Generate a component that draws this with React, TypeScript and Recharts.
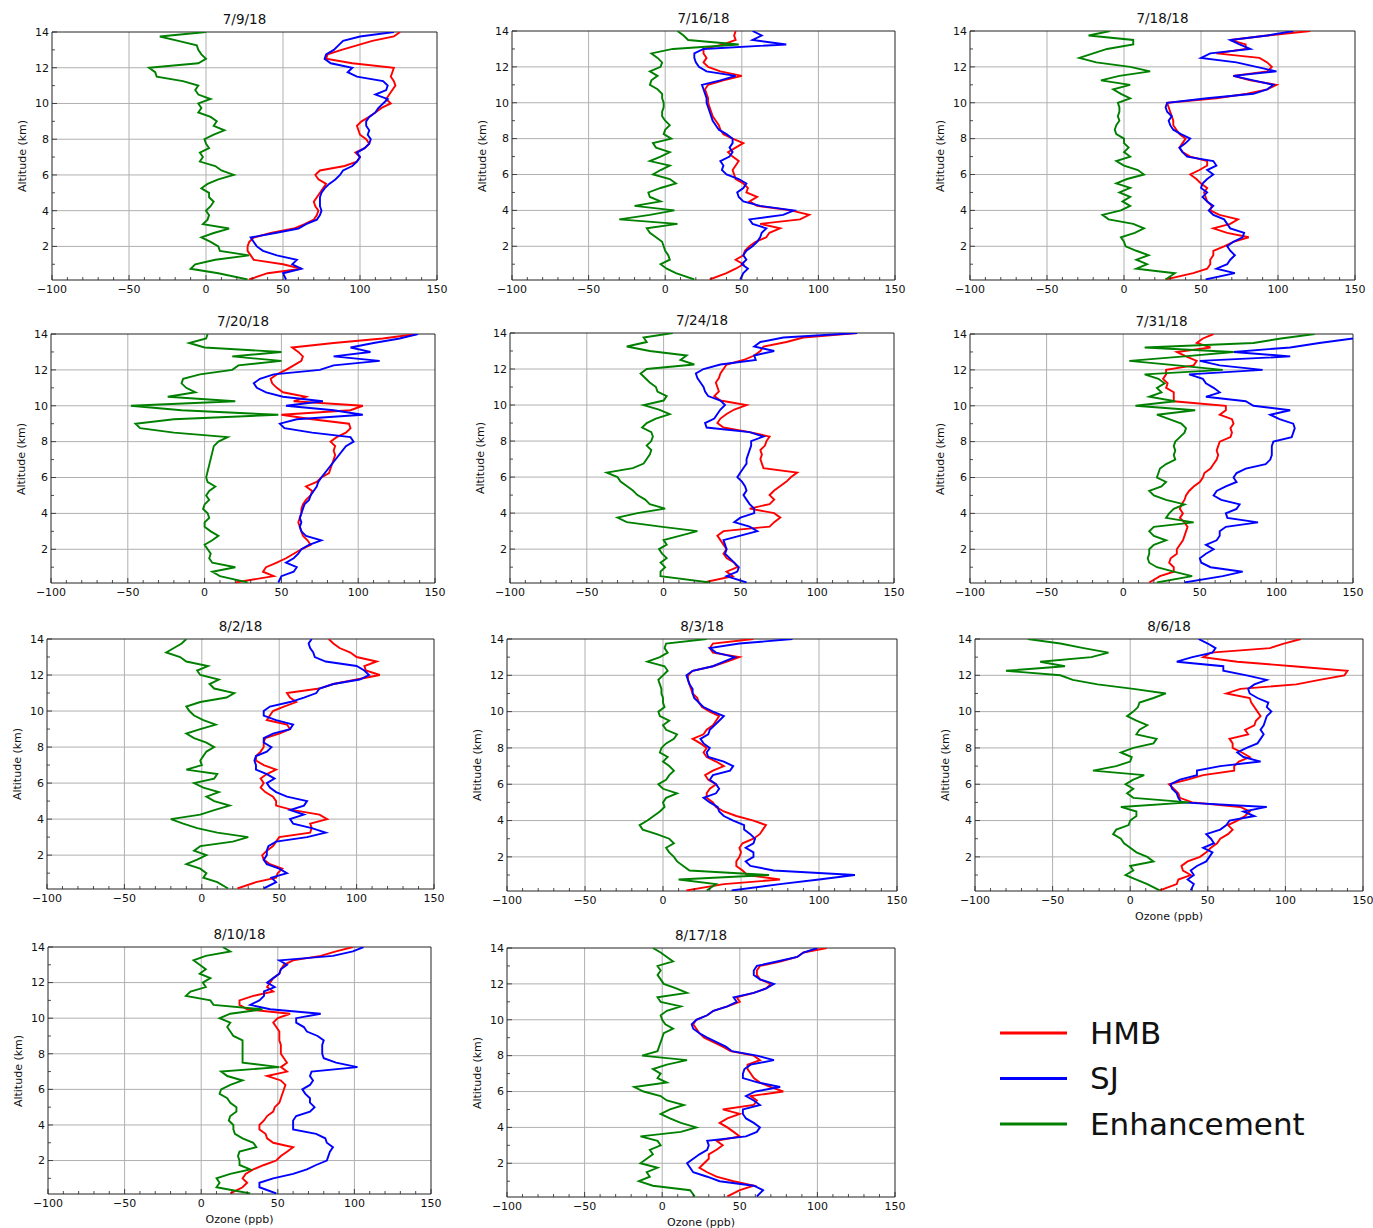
import React from 'react';
import { LineChart, Line, XAxis, YAxis, CartesianGrid, ReferenceArea } from 'recharts';

// altitude levels (km), shared by all profiles
const ALT = [
  0.15, 0.5, 0.75, 1, 1.25, 1.5, 1.75, 2,
  2.25, 2.5, 2.75, 3, 3.25, 3.5, 3.75, 4,
  4.25, 4.5, 4.75, 5, 5.25, 5.5, 5.75, 6,
  6.25, 6.5, 6.75, 7, 7.25, 7.5, 7.75, 8,
  8.25, 8.5, 8.75, 9, 9.25, 9.5, 9.75, 10,
  10.25, 10.5, 10.75, 11, 11.25, 11.5, 11.75, 12,
  12.25, 12.5, 12.75, 13, 13.25, 13.5, 13.75, 14,
];

// 7/9/18
const hmb709 = [28, 40, 62, 50, 31, 29, 27, 27, 28, 31, 42, 57, 64, 70, 72, 73, 71, 70, 72, 74, 76, 78, 73, 71, 74, 90, 98, 100, 97, 103, 106, 104, 100, 99, 98, 101, 106, 110, 114, 120, 117, 119, 121, 123, 122, 120, 121, 122, 95, 78, 79, 88, 98, 108, 122, 126];
const sj709 = [52, 50, 62, 56, 59, 46, 37, 33, 31, 29, 45, 60, 65, 72, 74, 75, 74, 74, 74, 75, 77, 80, 84, 87, 89, 95, 98, 100, 98, 103, 106, 107, 105, 106, 104, 104, 106, 110, 112, 115, 118, 110, 117, 118, 115, 98, 92, 95, 81, 77, 78, 83, 86, 89, 100, 122];
const enh709 = [27, 8, -10, -7, 6, 28, 9, 8, 3, -3, 5, 15, -2, 1, 2, 0, 3, 5, 2, 2, -3, 1, 8, 18, 10, 6, -4, -2, -4, 2, 0, -1, 5, 12, 5, 7, 3, -5, -3, -5, 3, -5, -7, -5, -15, -32, -33, -37, -5, 0, -3, -5, -6, -18, -30, 0];

// 7/16/18
const hmb716 = [29, 40, 46, 51, 46, 51, 52, 55, 59, 66, 68, 75, 62, 88, 94, 82, 60, 55, 60, 53, 54, 51, 46, 45, 44, 46, 48, 44, 41, 46, 51, 44, 38, 36, 35, 33, 31, 30, 29, 28, 28, 27, 26, 28, 38, 50, 36, 28, 25, 27, 25, 25, 38, 46, 45, 46];
const sj716 = [49, 51, 54, 50, 53, 51, 53, 57, 60, 62, 63, 66, 57, 55, 77, 84, 62, 51, 48, 47, 51, 53, 48, 40, 37, 38, 36, 42, 44, 42, 44, 44, 40, 35, 33, 31, 30, 29, 28, 27, 27, 26, 25, 24, 36, 46, 27, 22, 20, 19, 19, 25, 79, 57, 63, 57];
const enh716 = [19, 7, 1, -3, 3, 2, 0, -1, -2, -6, -10, -12, 8, -30, -10, 6, -20, -3, -10, -11, -3, 7, 3, -8, -3, 3, -10, -3, 3, -6, -8, 4, -1, 0, 3, 0, -2, -2, -1, -1, -2, -2, -5, -10, -9, -5, -10, -3, -2, -5, -9, 5, 48, 15, 12, 8];

// 7/18/18
const hmb718 = [27, 45, 54, 56, 56, 58, 58, 65, 71, 81, 67, 58, 69, 74, 62, 56, 57, 54, 53, 52, 54, 50, 47, 43, 49, 54, 54, 43, 38, 36, 38, 40, 36, 34, 32, 32, 31, 30, 29, 28, 60, 80, 93, 99, 82, 71, 93, 96, 93, 88, 60, 79, 79, 69, 93, 121];
const sj718 = [53, 72, 60, 67, 69, 72, 69, 67, 71, 77, 78, 69, 67, 65, 58, 55, 58, 54, 51, 54, 50, 51, 54, 58, 54, 60, 58, 41, 38, 36, 40, 43, 37, 32, 30, 29, 31, 28, 27, 28, 54, 84, 93, 97, 84, 71, 99, 86, 73, 50, 56, 82, 75, 69, 93, 110];
const enh718 = [27, 33, 8, 15, 8, 16, 8, 1, 0, -2, 7, 13, 6, -10, -14, -2, 4, -1, 4, -3, 4, -5, 2, 13, 9, 0, -5, 4, 0, 3, 0, 0, -5, -6, -5, -3, -4, -3, -3, -4, 4, -2, -7, 4, -15, -3, 17, 4, -18, -29, -20, -11, 6, 6, -23, -9];

// 7/20/18
const hmb720 = [20, 45, 38, 40, 47, 53, 58, 63, 69, 67, 64, 63, 62, 61, 62, 63, 63, 64, 66, 69, 70, 66, 73, 76, 81, 82, 83, 84, 85, 84, 85, 82, 86, 92, 95, 94, 70, 50, 95, 103, 58, 66, 51, 47, 44, 43, 47, 53, 58, 63, 64, 61, 57, 84, 116, 138];
const sj720 = [48, 50, 58, 60, 53, 58, 61, 63, 68, 76, 66, 63, 62, 63, 62, 63, 64, 65, 68, 69, 71, 73, 74, 76, null, null, null, null, null, null, 92, 97, 95, 70, 52, 49, 60, 103, 84, 53, 77, 51, 40, 34, 32, 36, 45, 75, 84, 114, 84, 108, 95, 110, 127, 139];
const enh720 = [28, 10, 5, 20, 5, 3, 4, 2, 0, 5, 9, 4, 0, 0, 3, 2, -1, 0, 3, 1, 3, 7, 2, 1, null, null, null, null, null, null, 6, 9, 15, -20, -42, -45, -20, 48, -15, -48, 20, -24, -6, -12, -15, -14, -3, 18, 22, 50, 18, 50, 0, -10, 1, 2];

// 7/24/18
const hmb724 = [26, 45, 41, 48, 46, 41, 39, 41, 39, 37, 35, 39, 69, 72, 76, 72, 56, 69, 72, 69, 72, 76, 80, 83, 87, 65, 64, 63, 64, 63, 66, 67, 69, 56, 39, 35, 37, 41, 46, 54, 37, 33, 36, 35, 34, 36, 37, 39, 41, 52, 59, 63, 65, 80, 91, 126];
const sj724 = [54, 41, 48, 49, 46, 43, 40, 41, 40, 39, 50, 61, 56, 46, 50, 59, 59, 56, 54, 52, 54, 53, 51, 48, 50, 52, 54, 54, 55, 56, 57, 57, 65, 56, 28, 27, 33, 35, 37, 40, 37, 29, 27, 26, 24, 22, 21, 26, 37, 60, 59, 72, 59, 63, 78, 126];
const enh724 = [30, -2, -2, 1, -2, 2, -1, -3, 2, 0, 11, 22, -2, -24, -30, -17, 1, -9, -12, -17, -20, -24, -28, -30, -37, -20, -13, -11, -9, -8, -11, -8, -7, -8, -14, -11, -5, 4, -3, -13, 0, 2, -4, -5, -9, -12, -15, -11, 20, 11, 15, -9, -24, -11, -13, 6];

// 7/31/18
const hmb731 = [17, 24, 33, 33, 30, 31, 35, 35, 37, 39, 40, 41, 42, 40, 37, 39, 37, 38, 40, 41, 43, 46, 50, 52, 53, 57, 59, 61, 62, 61, 62, 63, 70, 71, 70, 72, 71, 63, 67, 67, 33, 33, 33, 28, 29, 26, 28, 28, 46, 48, 41, 35, 57, 48, 52, 59];
const sj731 = [40, 65, 78, 57, 51, 50, 54, 59, 54, 61, 63, 63, 67, 88, 68, 67, 74, 76, 64, 59, 61, 67, 74, 72, 74, 80, 93, 96, 97, 97, 97, 98, 110, 111, 112, 111, 102, 96, 109, 85, 80, 54, 63, 59, 54, 52, 43, 91, 63, 50, 109, 72, 109, 128, 150, 165];
const enh731 = [22, 45, 33, 22, 17, 16, 17, 17, 20, 28, 20, 17, 20, 46, 28, 30, 33, 40, 28, 20, 17, 25, 28, 22, 23, 24, 28, 34, 33, 34, 33, 34, 37, 40, 41, 38, 30, 22, 47, 8, 34, 17, 25, 22, 27, 23, 14, 65, 35, 4, 40, 72, 14, 85, 103, 125];

// 8/2/18
const hmb802 = [23, 35, 48, 49, 52, 44, 40, 39, 42, 46, 48, 50, 70, 71, 70, 81, 76, 59, 48, 48, 46, 41, 38, 40, 38, 42, 48, 40, 35, 35, 38, 40, 40, 41, 50, 57, 55, 42, 44, 46, 53, 61, 57, 55, 76, 85, 100, 115, 106, 105, 113, 100, 96, 89, 85, 82];
const sj802 = [40, 48, 45, 55, 50, 42, 40, 42, 42, 43, 48, 68, 80, 71, 59, 57, 66, 57, 66, 68, 55, 48, 44, 42, 47, 42, 35, 35, 34, 35, 42, 45, 40, 40, 46, 57, 59, 48, 40, 40, 44, 57, 66, 74, 76, 85, 102, 108, 105, 100, 80, 73, 72, 70, 69, 71];
const enh802 = [17, 10, 1, 3, -1, -10, -3, 3, -5, -1, 20, 30, 10, -3, -12, -20, -1, 8, 18, 8, 3, 11, 1, -5, 8, 10, -10, 0, -1, 1, 3, 8, 3, -5, -10, -1, 9, 1, -5, -8, -10, -1, 16, 21, 8, 5, 11, -1, -3, 4, -10, -14, -23, -18, -13, -10];

// 8/3/18
const hmb803 = [15, 39, 75, 54, 51, 47, 47, 49, 50, 49, 51, 58, 62, 64, 66, 58, 47, 39, 34, 32, 28, 28, 30, 34, 29, 27, 32, 39, 34, 28, 26, 28, 24, 19, 26, 28, 32, 34, 36, 30, 25, 23, 22, 19, 18, 17, 16, 16, 19, 32, 41, 49, 32, 30, 32, 58];
const sj803 = [44, 75, 100, 123, 71, 56, 53, 58, 58, 53, 58, 59, 56, 52, 52, 45, 39, 36, 35, 30, 26, 34, 36, 34, 30, 32, 43, 45, 39, 29, 28, 30, 26, 24, 29, 30, 33, 36, 39, 32, 26, 23, 20, 19, 19, 17, 16, 15, 19, 32, 39, 46, 34, 30, 49, 83];
const enh803 = [28, 34, 10, 68, 17, 13, 9, 7, 4, 2, 7, 4, -4, -13, -15, -10, -6, -2, 1, 0, 2, 9, 0, -3, 2, 4, 7, 4, 0, 3, -2, -1, 2, 7, 9, 2, 0, 4, -2, -3, 1, 0, 0, -1, -1, -2, -3, 0, 3, 1, -10, -2, 3, 1, 2, 28];

// 8/6/18
const hmb806 = [19, 30, 31, 39, 34, 33, 37, 45, 49, 52, 56, 58, 63, 66, 63, 69, 74, 77, 71, 40, 32, 31, 28, 25, 37, 47, 67, 67, 70, 77, 72, 66, 66, 64, 76, 74, 80, 81, 84, 82, 80, 78, 77, 62, 71, 107, 122, 138, 140, 105, 69, 47, 52, 90, 99, 110];
const sj806 = [39, 41, 37, 41, 39, 43, 49, 51, 53, 47, 54, 52, 49, 58, 62, 64, 80, 73, 88, 33, 31, 30, 27, 26, 32, 43, 43, 58, 84, 73, 69, 75, 82, 84, 86, 84, 86, 87, 88, 91, 88, 89, 82, 77, 76, 80, 88, 75, 60, 60, 30, 40, 53, 55, 50, 44];
const enh806 = [19, 11, 4, -3, 2, 0, 15, 11, 4, 0, -4, -6, -11, -9, -1, 0, 4, 4, -6, 38, 2, -2, 2, -3, 2, 9, -24, -9, 0, 1, -6, 2, 15, 17, 4, 6, 11, 4, -2, 2, 5, 6, 15, 23, 2, -21, -37, -45, -80, -42, -58, -25, -14, -30, -45, -66];

// 8/10/18
const hmb810 = [19, 27, 30, 27, 29, 34, 41, 49, 52, 56, 60, 47, 43, 42, 38, 38, 41, 43, 47, 48, 51, 52, 53, 54, 55, 52, 43, 56, 52, 56, 54, 52, 52, 52, 51, 51, 51, 49, 47, 50, 58, 30, 25, 25, 34, 47, 43, 45, 47, 51, 52, 54, 60, 78, 88, 99];
const sj810 = [49, 38, 38, 47, 60, 69, 75, 82, 83, 84, 86, 82, 81, 75, 60, 60, 60, 62, 71, 74, 71, 71, 68, 66, 71, 73, 71, 72, 102, 88, 80, 79, 79, 79, 80, 76, 69, 67, 62, 62, 78, 45, 32, 38, 41, 41, 48, 43, 47, 51, 52, 56, 51, 86, 99, 106];
const enh810 = [32, 10, 12, 10, 19, 32, 25, 25, 24, 25, 36, 34, 27, 22, 21, 21, 18, 19, 23, 23, 19, 17, 12, 13, 19, 27, 17, 13, 51, 27, 27, 27, 27, 27, 27, 21, 19, 17, 19, 12, 19, 40, 8, 6, -10, -7, 3, 1, 6, -1, 3, -1, -5, 3, 19, 14];

// 8/17/18
const hmb817 = [42, 50, 59, 46, 35, 29, 24, 27, 30, 30, 35, 39, 35, 50, 46, 42, 37, 42, 50, 39, 59, 61, 57, 78, 70, 63, 59, 57, 55, 55, 63, 59, 44, 39, 33, 27, 24, 22, 20, 22, 29, 33, 42, 50, 48, 59, 67, 70, 63, 61, 61, 63, 76, 87, 91, 106];
const sj817 = [61, 65, 59, 37, 29, 20, 18, 16, 20, 24, 29, 30, 29, 54, 61, 63, 59, 54, 52, 52, 63, 59, 54, 60, 76, 62, 52, 52, 53, 57, 72, 61, 45, 41, 35, 29, 24, 20, 19, 22, 29, 33, 42, 48, 46, 59, 67, 72, 63, 59, 59, 61, 74, 87, 91, 100];
const enh817 = [21, 18, -6, -15, -8, -10, -3, -14, -10, -6, -8, -1, -3, -14, 12, 22, 12, 5, -1, 5, 14, 3, -1, -12, -18, 3, -3, -1, -6, 3, 16, -13, -3, -2, -1, 0, 1, 7, 2, 0, -1, 3, 12, -1, -3, 16, 9, 1, -1, -3, -1, -3, 7, 3, -1, -6];

const X_TICKS = [-100, -90, -80, -70, -60, -50, -40, -30, -20, -10, 0, 10, 20, 30, 40, 50, 60, 70, 80, 90, 100, 110, 120, 130, 140, 150];
const Y_TICKS = [1, 2, 3, 4, 5, 6, 7, 8, 9, 10, 11, 12, 13, 14];
const X_GRID = [-50, 0, 50, 100];
const Y_GRID = [2, 4, 6, 8, 10, 12];

const COLORS = { hmb: '#ff0000', sj: '#0000ff', enh: '#008000' };
const FONT = '"DejaVu Sans", Verdana, sans-serif';
// axis thickness is 1px so the axes still render; margins are trimmed to match
const M = { top: 28, right: 15, bottom: 39, left: 44 };

// plot boxes: [left, right, top, bottom] in page pixels
const PANELS = [
  { title: '7/9/18', hmb: hmb709, sj: sj709, enh: enh709, box: [52, 437, 32, 280] },
  { title: '7/16/18', hmb: hmb716, sj: sj716, enh: enh716, box: [512, 895, 31, 280] },
  { title: '7/18/18', hmb: hmb718, sj: sj718, enh: enh718, box: [970, 1355, 31, 280] },
  { title: '7/20/18', hmb: hmb720, sj: sj720, enh: enh720, box: [51, 435, 334, 583] },
  { title: '7/24/18', hmb: hmb724, sj: sj724, enh: enh724, box: [510, 894, 333, 583] },
  { title: '7/31/18', hmb: hmb731, sj: sj731, enh: enh731, box: [970, 1353, 334, 583] },
  { title: '8/2/18', hmb: hmb802, sj: sj802, enh: enh802, box: [47, 434, 639, 889] },
  { title: '8/3/18', hmb: hmb803, sj: sj803, enh: enh803, box: [507, 897, 639, 891] },
  { title: '8/6/18', hmb: hmb806, sj: sj806, enh: enh806, box: [975, 1363, 639, 891], xlabel: true },
  { title: '8/10/18', hmb: hmb810, sj: sj810, enh: enh810, box: [48, 431, 947, 1194], xlabel: true },
  { title: '8/17/18', hmb: hmb817, sj: sj817, enh: enh817, box: [507, 895, 948, 1197], xlabel: true },
];

const fmt = (v: number) => (v < 0 ? '\u2212' + Math.abs(v) : String(v));

const XTick = (props: any) => {
  const { x, y, payload } = props;
  const v = payload.value;
  const major = v % 50 === 0;
  return (
    <g>
      <line x1={x} x2={x} y1={y} y2={y - (major ? 5 : 3)} stroke="#222" strokeWidth={0.8} />
      {major && (
        <text x={x} y={y + 13} textAnchor="middle" fontSize={11} fill="#111" fontFamily={FONT}>
          {fmt(v)}
        </text>
      )}
    </g>
  );
};

const YTick = (props: any) => {
  const { x, y, payload } = props;
  const v = payload.value;
  const major = v % 2 === 0;
  return (
    <g>
      <line x1={x} x2={x + (major ? 5 : 3)} y1={y} y2={y} stroke="#222" strokeWidth={0.8} />
      {major && (
        <text x={x - 3} y={y} dy="0.35em" textAnchor="end" fontSize={11} fill="#111" fontFamily={FONT}>
          {v}
        </text>
      )}
    </g>
  );
};

function Profile({ p }: { p: any }) {
  const [x0, x1, y0, y1] = p.box;
  const w = x1 - x0;
  const h = y1 - y0;
  const data = ALT.map((alt, i) => ({ alt, hmb: p.hmb[i], sj: p.sj[i], enh: p.enh[i] }));
  return (
    <>
      <div style={{ position: 'absolute', left: x0, width: w, top: y0 - 22, textAlign: 'center', fontSize: 13.5, lineHeight: '18px', color: '#111' }}>
        {p.title}
      </div>
      <div style={{ position: 'absolute', left: x0 - 30, top: (y0 + y1) / 2, transform: 'translate(-50%, -50%) rotate(-90deg)', whiteSpace: 'nowrap', fontSize: 11, color: '#111' }}>
        Altitude (km)
      </div>
      {p.xlabel && (
        <div style={{ position: 'absolute', left: x0, width: w, top: y1 + 18, textAlign: 'center', fontSize: 11, lineHeight: '16px', color: '#111' }}>
          Ozone (ppb)
        </div>
      )}
      <div style={{ position: 'absolute', left: x0 - M.left - 1, top: y0 - M.top }}>
        <LineChart layout="vertical" width={w + M.left + 1 + M.right} height={h + M.top + M.bottom + 1} data={data} margin={M}>
          <CartesianGrid stroke="#b0b0b0" strokeWidth={1} horizontalValues={Y_GRID} verticalValues={X_GRID} />
          <XAxis
            type="number"
            domain={[-100, 150]}
            ticks={X_TICKS}
            interval={0}
            height={1}
            tickSize={0}
            tickMargin={0}
            tickLine={false}
            axisLine={false}
            tick={(t: any) => <XTick {...t} />}
            allowDataOverflow
          />
          <YAxis
            type="number"
            dataKey="alt"
            domain={[0.12, 14]}
            ticks={Y_TICKS}
            interval={0}
            width={1}
            reversed
            tickSize={0}
            tickMargin={0}
            tickLine={false}
            axisLine={false}
            tick={(t: any) => <YTick {...t} />}
            allowDataOverflow
          />
          <ReferenceArea x1={-100} x2={150} y1={0.12} y2={14} fill="none" stroke="#222" strokeWidth={1} />
          <Line dataKey="hmb" stroke={COLORS.hmb} strokeWidth={1.9} dot={false} type="linear" isAnimationActive={false} />
          <Line dataKey="sj" stroke={COLORS.sj} strokeWidth={1.9} dot={false} type="linear" isAnimationActive={false} />
          <Line dataKey="enh" stroke={COLORS.enh} strokeWidth={1.9} dot={false} type="linear" isAnimationActive={false} />
        </LineChart>
      </div>
    </>
  );
}

const LEGEND = [
  { name: 'HMB', color: COLORS.hmb },
  { name: 'SJ', color: COLORS.sj },
  { name: 'Enhancement', color: COLORS.enh },
];

export default function App() {
  return (
    <div style={{ position: 'absolute', left: 0, top: 0, width: 1373, height: 1228, background: '#fff', fontFamily: FONT }}>
      {PANELS.map((p) => (
        <Profile key={p.title} p={p} />
      ))}
      <svg style={{ position: 'absolute', left: 990, top: 1005 }} width={340} height={150}>
        {LEGEND.map((l, i) => (
          <g key={l.name}>
            <line x1={10} x2={77} y1={28 + i * 45.5} y2={28 + i * 45.5} stroke={l.color} strokeWidth={3} />
            <text x={100} y={28 + i * 45.5} dy="0.35em" fontSize={31} fill="#111" fontFamily={FONT}>
              {l.name}
            </text>
          </g>
        ))}
      </svg>
    </div>
  );
}
